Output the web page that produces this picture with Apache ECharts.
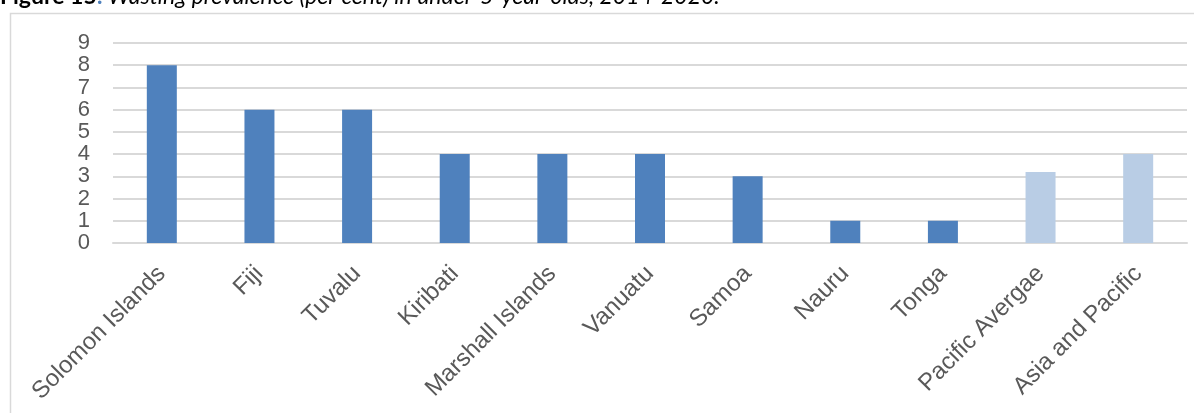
<!DOCTYPE html>
<html>
<head>
<meta charset="utf-8">
<script src="https://cdn.jsdelivr.net/npm/echarts@6/dist/echarts.min.js"></script>
<style>
html,body{margin:0;padding:0;background:#fff;}
#chart{width:1194px;height:413px;}
</style>
</head>
<body>
<div id="chart"></div>
<script>
var categories = ['Solomon Islands','Fiji','Tuvalu','Kiribati','Marshall Islands','Vanuatu','Samoa','Nauru','Tonga','Pacific Avergae','Asia and Pacific'];
var values = [8, 6, 6, 4, 4, 4, 3, 1, 1, 3.2, 4];
var aggregateCategories = ['Pacific Avergae','Asia and Pacific'];
var yTicks = [0,1,2,3,4,5,6,7,8,9];

var chart = echarts.init(document.getElementById('chart'), null, {renderer:'canvas'});
var option = {
  animation: false,
  backgroundColor: '#ffffff',
  graphic: [
    {
      type: 'rect',
      shape: {x: 10.5, y: 13.5, width: 1200, height: 420},
      style: {fill: 'none', stroke: '#d9d9d9', lineWidth: 1.5},
      silent: true
    },
    {
      type: 'text',
      left: 0,
      top: -15,
      style: {
        text: '{b|Figure 15}{c|:}{i| Wasting prevalence (per cent) in under-5-year-olds, 2014-2020.}',
        rich: {
          b: {fontFamily: 'Lato', fontWeight: 'bold', fontSize: 23, fill: '#000'},
          c: {fontFamily: 'Lato', fontWeight: 'bold', fontSize: 23, fill: '#4F81BD'},
          i: {fontFamily: 'Lato', fontStyle: 'italic', fontSize: 23, fill: '#000'}
        }
      },
      silent: true
    }
  ],
  grid: {left: 113, right: 7, top: 43, bottom: 170, containLabel: false},
  xAxis: {
    type: 'category',
    data: categories,
    axisLine: {show: true, lineStyle: {color: '#d9d9d9', width: 2}},
    axisTick: {show: false},
    axisLabel: {
      interval: 0,
      rotate: 45,
      fontFamily: 'Liberation Sans, Arial, sans-serif',
      fontSize: 24,
      color: '#595959',
      margin: 27
    }
  },
  yAxis: {
    type: 'value',
    min: 0,
    max: 9,
    interval: 1,
    axisLine: {show: false},
    axisTick: {show: false},
    splitLine: {lineStyle: {color: '#d9d9d9', width: 2}},
    axisLabel: {
      fontFamily: 'Liberation Sans, Arial, sans-serif',
      fontSize: 22,
      lineHeight: 22,
      color: '#595959',
      margin: 23,
      showMinLabel: true,
      showMaxLabel: true,
      hideOverlap: false,
      formatter: function (v) { return yTicks.indexOf(v) >= 0 ? String(v) : ''; }
    }
  },
  series: [{
    type: 'bar',
    data: values.map(function (v, i) {
      return {
        value: v,
        itemStyle: {color: aggregateCategories.indexOf(categories[i]) >= 0 ? '#B9CDE5' : '#4F81BD'}
      };
    }),
    barWidth: 30
  }]
};
chart.setOption(option);
</script>
</body>
</html>
